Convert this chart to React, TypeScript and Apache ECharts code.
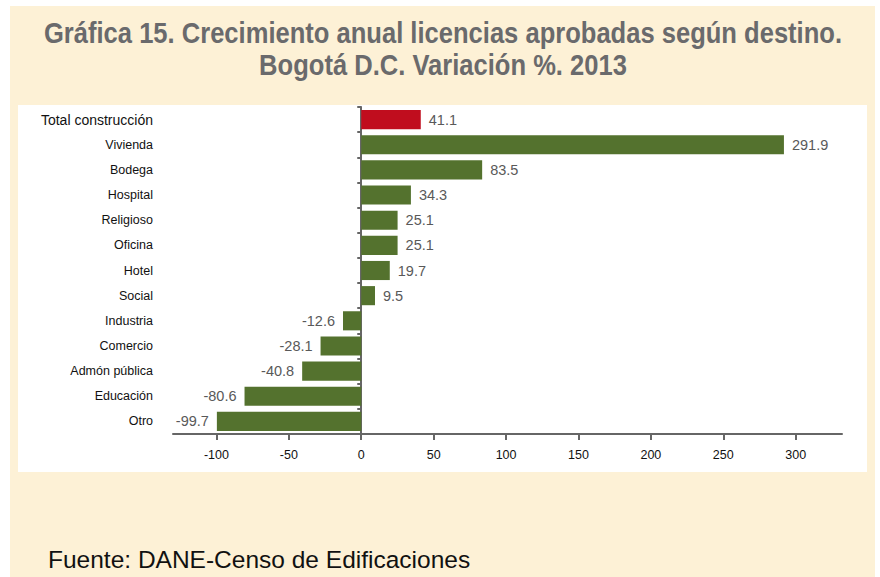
import React, { useEffect, useRef } from "react";
import * as echarts from "echarts";

const categories = [
  "Total construcción",
  "Vivienda",
  "Bodega",
  "Hospital",
  "Religioso",
  "Oficina",
  "Hotel",
  "Social",
  "Industria",
  "Comercio",
  "Admón pública",
  "Educación",
  "Otro",
];
const values = [41.1, 291.9, 83.5, 34.3, 25.1, 25.1, 19.7, 9.5, -12.6, -28.1, -40.8, -80.6, -99.7];
const xTicks = [-100, -50, 0, 50, 100, 150, 200, 250, 300];
const titleLines = [
  "Gráfica 15. Crecimiento anual licencias aprobadas según destino.",
  "Bogotá D.C. Variación %. 2013",
];
const sourceText = "Fuente: DANE-Censo de Edificaciones";

const SANS = '"Liberation Sans", Arial, sans-serif';
const TITLE_FONT = 'bold 30px "Liberation Sans", Arial, sans-serif';
const GREEN = "#54722E";
const RED = "#C00D1E";

function measure(text: string, font: string): number {
  const c = document.createElement("canvas");
  const ctx = c.getContext("2d");
  if (!ctx) return 0;
  ctx.font = font;
  return ctx.measureText(text).width;
}

export default function App() {
  const ref = useRef<HTMLDivElement>(null);
  useEffect(() => {
    if (!ref.current) return;
    const chart = echarts.init(ref.current, null, { renderer: "svg" });
    const w1 = measure(titleLines[0], TITLE_FONT) || 1000;
    const sx = 798 / w1;
    chart.setOption({
      animation: false,
      backgroundColor: "#ffffff",
      graphic: [
        { type: "rect", z: -100, shape: { x: 10, y: 6, width: 865, height: 571 }, style: { fill: "#FDF1D6" }, silent: true },
        { type: "rect", z: -99, shape: { x: 18, y: 105, width: 849, height: 367 }, style: { fill: "#ffffff" }, silent: true },
        {
          type: "text",
          x: 443,
          y: 33,
          scaleX: sx,
          style: {
            text: titleLines[0],
            textAlign: "center",
            textVerticalAlign: "middle",
            font: TITLE_FONT,
            fill: "#6A6A6C",
          },
        },
        {
          type: "text",
          x: 443,
          y: 65,
          scaleX: sx,
          style: {
            text: titleLines[1],
            textAlign: "center",
            textVerticalAlign: "middle",
            font: TITLE_FONT,
            fill: "#6A6A6C",
          },
        },
        {
          type: "text",
          x: 48,
          y: 559,
          style: {
            text: sourceText,
            textAlign: "left",
            textVerticalAlign: "middle",
            font: '24.5px "Liberation Sans", Arial, sans-serif',
            fill: "#111111",
          },
        },
      ],
      grid: { left: 173, right: 38, top: 107, bottom: 143, containLabel: false },
      xAxis: {
        type: "value",
        min: -130,
        max: 332,
        splitLine: { show: false },
        axisLine: { show: true, onZero: false, lineStyle: { color: "#666666", width: 2 } },
        axisTick: { show: true, length: 6, lineStyle: { color: "#666666", width: 2 }, customValues: xTicks },
        axisLabel: {
          customValues: xTicks,
          color: "#111111",
          fontFamily: SANS,
          fontSize: 12.5,
          margin: 14,
        },
      },
      yAxis: [
        {
          type: "category",
          data: categories,
          inverse: true,
          axisLine: { show: false, onZero: false },
          axisTick: { show: false },
          axisLabel: {
            margin: 20,
            color: "#111111",
            formatter: (v: string, i: number) => (i === 0 ? `{big|${v}}` : `{n|${v}}`),
            rich: {
              big: { fontFamily: SANS, fontSize: 14, color: "#111111" },
              n: { fontFamily: SANS, fontSize: 12.5, color: "#111111" },
            },
          },
        },
        {
          type: "category",
          data: categories,
          inverse: true,
          position: "left",
          axisLine: { show: true, onZero: true, lineStyle: { color: "#666666", width: 2 } },
          axisTick: { show: true, length: 4, inside: false, lineStyle: { color: "#666666", width: 2 } },
          axisLabel: { show: false },
        },
      ],
      series: [
        {
          type: "bar",
          yAxisIndex: 0,
          barCategoryGap: "24%",
          data: values.map((v, i) => ({
            value: v,
            itemStyle: { color: i === 0 ? RED : GREEN },
            label: { position: v < 0 ? "left" : "right" },
          })),
          label: {
            show: true,
            distance: 8,
            color: "#595959",
            fontFamily: SANS,
            fontSize: 14.5,
            formatter: (p: any) => p.value.toFixed(1),
          },
        },
      ],
    });
    return () => chart.dispose();
  }, []);
  return (
    <div
      ref={ref}
      style={{ position: "fixed", left: 0, top: 0, width: 880, height: 577 }}
    />
  );
}
